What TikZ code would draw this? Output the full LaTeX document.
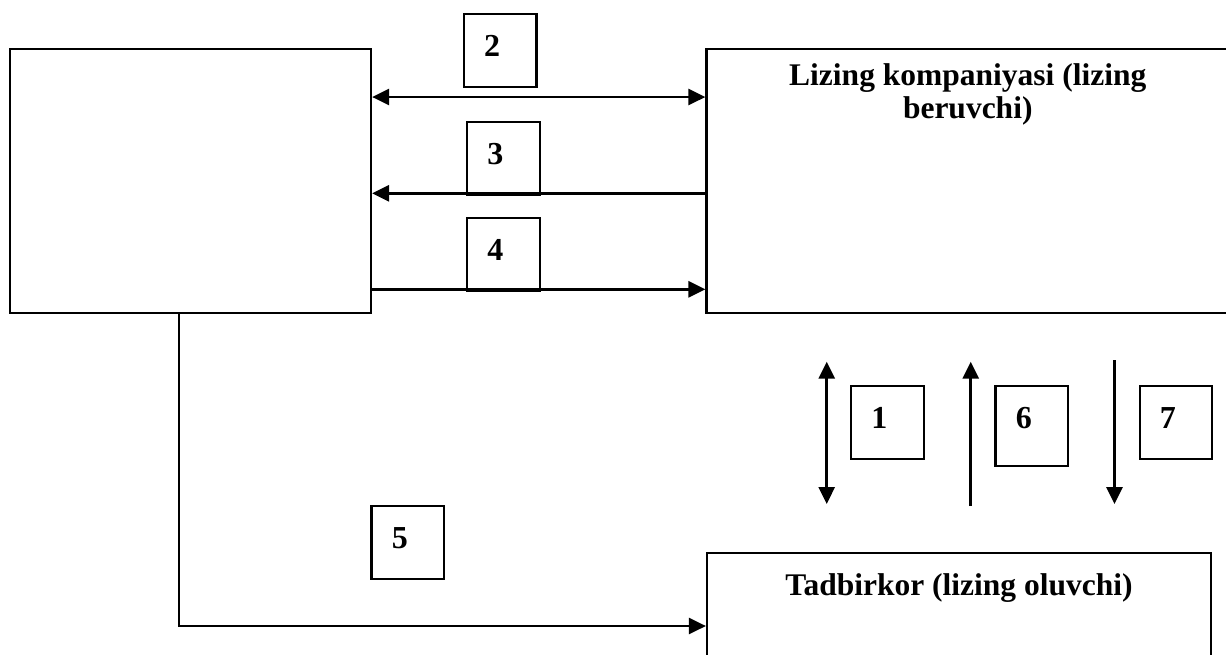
\documentclass[tikz,border=0pt]{standalone}
\usepackage{fontspec}
\setmainfont{Liberation Serif}
\usetikzlibrary{arrows.meta}
\begin{document}
\begin{tikzpicture}[x=0.5pt,y=-0.5pt,
  box/.style={draw, line width=1.1pt, inner sep=0pt},
  numbox/.style={draw, line width=1.1pt, inner sep=0pt, anchor=north west,
    minimum width=36.3pt, minimum height=36.5pt,
    font=\fontsize{16}{16.5}\selectfont\bfseries,
    text height=8pt, text depth=2pt, execute at end node={\hspace{8pt}}},
  title/.style={font=\fontsize{15.75}{16.5}\selectfont\bfseries, align=center, inner sep=0pt},
  arr/.style={line width=1.4pt, -{Triangle[length=8.5pt,width=8pt]}},
  darr/.style={line width=1.4pt, {Triangle[length=8.5pt,width=8pt]}-{Triangle[length=8.5pt,width=8pt]}},
]
\useasboundingbox (0,0) rectangle (1226,654);
\clip (0,0) rectangle (1226,654);

% main boxes
\node[box, minimum width=180.5pt, minimum height=132pt] (L) at (190.5,181.3) {};
\node[box, minimum width=261.25pt, minimum height=131.85pt] (R) at (967.75,181.2) {};
\node[box, minimum width=252pt, minimum height=73pt] (B) at (959,626) {};

\node[title, anchor=north] (Rt) at (967.75,63.3) {Lizing kompaniyasi (lizing\\beruvchi)};
\node[title, anchor=base] (Bt) at (959,595) {Tadbirkor (lizing oluvchi)};

% number boxes
\node[numbox] (n2) at (462.8,12.7) {2};
\node[numbox] (n3) at (466,121) {3};
\node[numbox] (n4) at (466,217) {4};
\node[numbox] (n5) at (370.4,505) {5};
\node[numbox] (n1) at (850,385) {1};
\node[numbox, minimum height=40pt, text depth=5.5pt] (n6) at (994.4,385) {6};
\node[numbox] (n7) at (1138.5,385) {7};

% helper coordinates
\coordinate (y2) at (0,97);
\coordinate (y3) at (0,193.3);
\coordinate (y4) at (0,289.3);
\coordinate (c5) at (178.7,626);
\coordinate (a1t) at (826.7,361.7);
\coordinate (a1b) at (826.7,504);
\coordinate (a6t) at (970.7,361.7);
\coordinate (a6b) at (970.7,506);
\coordinate (a7t) at (1114.5,360);
\coordinate (a7b) at (1114.5,504);

% connectors
\draw[darr] (L.east |- y2) -- (R.west |- y2);
\draw[arr] (R.west |- y3) -- (L.east |- y3);
\draw[arr] (L.east |- y4) -- (R.west |- y4);
\draw[arr, line width=1.15pt] (L.south -| c5) -- (c5) -- (B.west);
\draw[darr] (a1t) -- (a1b);
\draw[arr] (a6b) -- (a6t);
\draw[arr] (a7t) -- (a7b);
\end{tikzpicture}
\end{document}
